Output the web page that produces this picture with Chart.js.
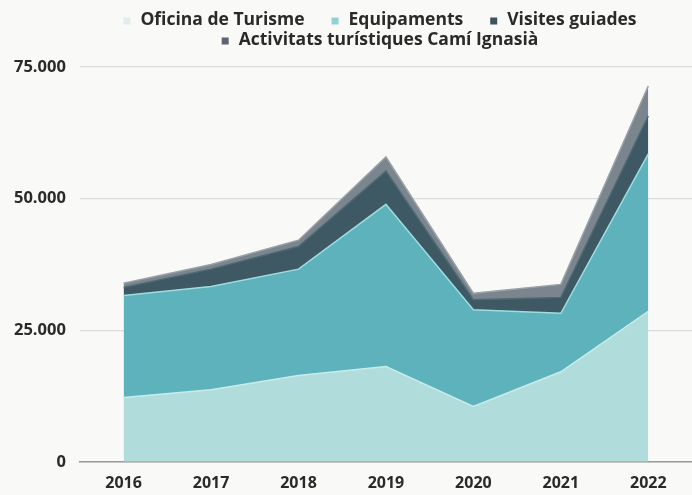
<!DOCTYPE html>
<html>
<head>
<meta charset="utf-8">
<script src="https://cdn.jsdelivr.net/npm/chart.js@4"></script>
<style>
  html, body { margin: 0; padding: 0; background: #f9f9f7; }
  #wrap { width: 692px; height: 495px; }
</style>
</head>
<body>
<div id="wrap"><canvas id="c"></canvas></div>
<script>
const years = ['2016', '2017', '2018', '2019', '2020', '2021', '2022'];
const oficinaTurisme = [12200, 13700, 16400, 18100, 10500, 17100, 28600];
const equipaments = [19400, 19600, 20200, 30800, 18400, 11100, 29900];
const visitesGuiades = [1500, 3300, 4300, 6300, 1900, 3000, 7200];
const activitatsCami = [800, 900, 1200, 2700, 1200, 2500, 5700];
const yTicks = [0, 25000, 50000, 75000];

const seriesNames = ['Oficina de Turisme', 'Equipaments', 'Visites guiades', 'Activitats turístiques Camí Ignasià'];
const fills = ['#b1dcdc', '#5eb2bc', '#3e5864', '#7b858e'];
const borders = ['#c8ecec', '#9ddde0', '#4d6873', '#98a1a8'];
const legendMarks = ['#e2eeee', '#8fd3d3', '#3b5563', '#5d6572'];
const seriesData = [oficinaTurisme, equipaments, visitesGuiades, activitatsCami];

const datasets = seriesData.map((d, i) => ({
  label: seriesNames[i],
  data: d,
  backgroundColor: fills[i],
  borderColor: borders[i],
  borderWidth: 1.5,
  pointRadius: 0,
  tension: 0,
  fill: i === 0 ? 'origin' : '-1'
}));

const fmt = v => v === 0 ? '0' : v.toLocaleString('de-DE');

// Legend drawn by a small Chart.js plugin (spacing like the reference)
const wideLegend = {
  id: 'wideLegend',
  afterDraw(chart) {
    const ctx = chart.ctx;
    const font = 'bold 17.5px "Open Sans"';
    const box = 7, boxGap = 10, itemGap = 27, maxW = 560, centerX = 380;
    const rowY = [20, 40];
    ctx.save();
    ctx.font = font;
    ctx.textBaseline = 'middle';
    const items = chart.data.datasets.map((ds, i) => {
      const tw = ctx.measureText(ds.label).width;
      return { text: ds.label, color: legendMarks[i], w: box + boxGap + tw };
    });
    const rows = [[]];
    let cur = 0;
    items.forEach(it => {
      const row = rows[rows.length - 1];
      const add = (row.length ? itemGap : 0) + it.w;
      if (row.length && cur + add > maxW) { rows.push([it]); cur = it.w; }
      else { row.push(it); cur += add; }
    });
    rows.forEach((row, r) => {
      const total = row.reduce((s, it, k) => s + it.w + (k ? itemGap : 0), 0);
      let x = centerX - total / 2;
      const y = rowY[r] !== undefined ? rowY[r] : rowY[0] + r * 20;
      row.forEach(it => {
        ctx.fillStyle = it.color;
        ctx.fillRect(x, y - box / 2 + 1, box, box);
        ctx.fillStyle = '#2a2a2a';
        ctx.fillText(it.text, x + box + boxGap, y);
        x += it.w + itemGap;
      });
    });
    ctx.restore();
  }
};

new Chart(document.getElementById('c'), {
  type: 'line',
  data: { labels: years, datasets },
  plugins: [wideLegend],
  options: {
    responsive: true,
    maintainAspectRatio: false,
    animation: false,
    layout: { padding: { left: 0, right: -3, top: 67, bottom: -10 } },
    plugins: {
      tooltip: { enabled: false },
      legend: { display: false }
    },
    scales: {
      x: {
        offset: true,
        grid: { display: false, drawTicks: false },
        border: { display: true, color: '#9a9a9a', width: 1.5 },
        ticks: {
          font: { family: 'Open Sans', weight: 'bold', size: 16 },
          color: '#2a2a2a',
          padding: 12,
          maxRotation: 0
        }
      },
      y: {
        stacked: true,
        min: 0,
        max: 75000,
        afterBuildTicks: axis => { axis.ticks = yTicks.map(v => ({ value: v })); },
        grid: { color: '#dcdcdc', lineWidth: 1.2, drawTicks: false },
        border: { display: false },
        ticks: {
          font: { family: 'Open Sans', weight: 'bold', size: 16.5 },
          color: '#2a2a2a',
          padding: 14,
          callback: v => fmt(v)
        }
      }
    }
  }
});
</script>
</body>
</html>
